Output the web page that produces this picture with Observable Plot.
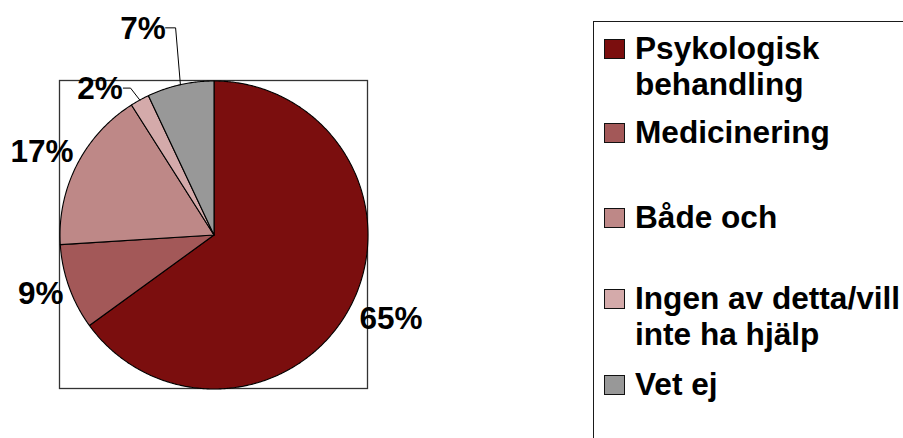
<!DOCTYPE html>
<html>
<head>
<meta charset="utf-8">
<script src="https://cdn.jsdelivr.net/npm/d3@7"></script>
<script src="https://cdn.jsdelivr.net/npm/@observablehq/plot@0.6"></script>
<style>
  html, body { margin: 0; padding: 0; background: #fff; }
  #wrap { position: relative; width: 903px; height: 438px; overflow: hidden; background: #fff; }
  #chart { position: absolute; left: 0; top: 0; }
  #legend { position: absolute; left: 593px; top: 21px; width: 420px; height: 520px;
            border: 1.3px solid #1a1a1a; box-sizing: border-box; background: #fff; }
  .item { position: absolute; left: 0; width: 420px; font-family: "Liberation Sans", Arial, sans-serif;
          font-weight: bold; font-size: 31.6px; line-height: 36px; color: #000; }
  .sw { position: absolute; left: 10px; top: 9px; width: 21px; height: 20px; box-sizing: border-box;
        border: 1.3px solid #111; }
  .txt { position: absolute; left: 41px; top: 0; width: 300px; white-space: normal; }
</style>
</head>
<body>
<div id="wrap">
  <div id="chart"></div>
  <div id="legend"></div>
</div>
<script>
// ---- data ----
const categories = ["Psykologisk behandling", "Medicinering", "Både och", "Ingen av detta/vill inte ha hjälp", "Vet ej"];
const values = [65, 9, 17, 2, 7];
const labels = ["65%", "9%", "17%", "2%", "7%"];
const colors = ["#7B0E0E", "#A35858", "#BE8887", "#D4AAAA", "#989898"];

// ---- layout (not data) ----
const labelLayout = [
  {r: 1.273, da: -1.5},
  {r: 1.188, da: 1.0},
  {r: 1.242, da: -1.1},
  {r: 1.205, da: -9.1},
  {r: 1.418, da: -6.4}
];
const leaderLayout = {3: {r: 1.097, da: -0.8, len: 0.047}, 4: {r: 1.368, da: 2.1, len: 0.065}};
const legendTops = [8, 92, 177, 258, 344];

// ---- geometry from data ----
const total = d3.sum(values);
const rad = (deg) => deg * Math.PI / 180;
const polar = (r, deg) => ({x: r * Math.sin(rad(deg)), y: r * Math.cos(rad(deg))});
const slices = [];
let cum = 0;
values.forEach((v, i) => {
  const a0 = cum / total * 360;
  cum += v;
  const a1 = cum / total * 360;
  slices.push({cat: categories[i], a0, a1, mid: (a0 + a1) / 2, i});
});

const slicePts = [];
for (const s of slices) {
  slicePts.push({cat: s.cat, x: 0, y: 0});
  const n = Math.max(2, Math.ceil((s.a1 - s.a0) / 0.5));
  for (let k = 0; k <= n; k++) {
    const p = polar(1, s.a0 + (s.a1 - s.a0) * k / n);
    slicePts.push({cat: s.cat, x: p.x, y: p.y});
  }
  slicePts.push({cat: s.cat, x: 0, y: 0});
}

const labelData = slices.map((s) => {
  const L = labelLayout[s.i];
  const p = polar(L.r, s.mid + L.da);
  return {x: p.x, y: p.y, text: labels[s.i]};
});

const leaderPts = [];
for (const s of slices) {
  const L = leaderLayout[s.i];
  if (!L) continue;
  const a = polar(1, s.mid);
  const e = polar(L.r, s.mid + L.da);
  leaderPts.push({k: s.i, x: a.x, y: a.y});
  leaderPts.push({k: s.i, x: e.x, y: e.y});
  leaderPts.push({k: s.i, x: e.x - L.len, y: e.y});
}

const frameBox = [{x1: -1, x2: 1, y1: -1, y2: 1}];

const plot = Plot.plot({
  width: 903,
  height: 438,
  margin: 0,
  x: {domain: [-1, 1], range: [59.5, 367.5], axis: null},
  y: {domain: [-1, 1], range: [388.5, 80.5], axis: null},
  color: {domain: categories, range: colors},
  style: {background: "transparent", overflow: "visible"},
  marks: [
    Plot.rect(frameBox, {x1: "x1", x2: "x2", y1: "y1", y2: "y2", fill: "none", stroke: "#333", strokeWidth: 1.3}),
    Plot.line(slicePts, {x: "x", y: "y", z: "cat", fill: "cat", stroke: "#000", strokeWidth: 1.1, strokeLinejoin: "round"}),
    Plot.line(leaderPts, {x: "x", y: "y", z: "k", stroke: "#000", strokeWidth: 1}),
    Plot.text(labelData, {x: "x", y: "y", text: "text", fontSize: 31.5, fontWeight: "bold",
      fontFamily: "Liberation Sans, Arial, sans-serif", fill: "#000"})
  ]
});
document.getElementById("chart").appendChild(plot);

// ---- legend ----
const legend = document.getElementById("legend");
categories.forEach((c, i) => {
  const item = document.createElement("div");
  item.className = "item";
  item.style.top = legendTops[i] + "px";
  const sw = document.createElement("div");
  sw.className = "sw";
  sw.style.background = colors[i];
  const t = document.createElement("div");
  t.className = "txt";
  t.textContent = c;
  item.appendChild(sw);
  item.appendChild(t);
  legend.appendChild(item);
});
</script>
</body>
</html>
